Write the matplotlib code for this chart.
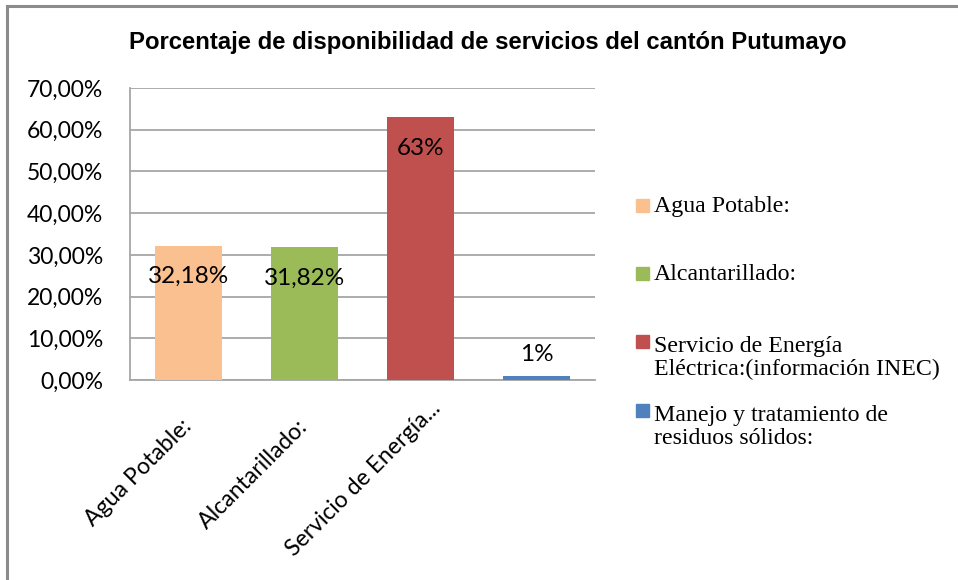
import matplotlib
matplotlib.use("Agg")
import matplotlib.pyplot as plt
from matplotlib.patches import Rectangle
from matplotlib.lines import Line2D
from matplotlib.ticker import FuncFormatter
import matplotlib.transforms as mtransforms

# Data
categories = [
    "Agua Potable:",
    "Alcantarillado:",
    "Servicio de Energía\nEléctrica:(información INEC)",
    "Manejo y tratamiento de\nresiduos sólidos:",
]
tick_labels = ["Agua Potable:", "Alcantarillado:", "Servicio de Energía...", ""]
values = [0.3218, 0.3182, 0.63, 0.01]
value_labels = ["32,18%", "31,82%", "63%", "1%"]
colors = ["#FAC090", "#9BBB59", "#C0504D", "#4F81BD"]
title = "Porcentaje de disponibilidad de servicios del cantón Putumayo"

W, H = 958, 580
PT = 0.72  # points per pixel at 100 dpi
fig = plt.figure(figsize=(W / 100, H / 100), dpi=100)

# Chart-area border (top and left edges)
fig.add_artist(Line2D([7 / W, 1.0], [1 - 6 / H, 1 - 6 / H], color="#8C8C8C", lw=2.2,
                      transform=fig.transFigure))
fig.add_artist(Line2D([7 / W, 7 / W], [0.0, 1 - 6 / H], color="#8C8C8C", lw=2.2,
                      transform=fig.transFigure))

ax = fig.add_axes([130 / W, 1 - 380 / H, 465 / W, 292 / H])
x = list(range(len(values)))
ax.bar(x, values, width=0.576, color=colors, zorder=3)
ax.set_xlim(-0.5, len(values) - 0.5)
ax.set_ylim(0, 0.70)
ax.set_yticks([i / 10 for i in range(8)])
ax.yaxis.set_major_formatter(FuncFormatter(lambda v, p: f"{v * 100:.2f}%".replace(".", ",")))
ax.grid(axis="y", color="#A6A6A6", lw=1.3, zorder=0)
for s in ["top", "right"]:
    ax.spines[s].set_visible(False)
for s in ["left", "bottom"]:
    ax.spines[s].set_color("#A6A6A6")
    ax.spines[s].set_linewidth(1.3)
ax.tick_params(axis="y", length=0, pad=27 * PT, labelsize=16.5, labelcolor="black")
ax.tick_params(axis="x", length=0, pad=43 * PT, labelsize=16.6)
for lab in ax.get_yticklabels():
    lab.set_fontfamily("Lato")

ax.set_xticks(x)
ax.set_xticklabels(tick_labels, rotation=45, ha="right", va="center",
                   rotation_mode="anchor", fontfamily="Lato")
# the truncated third label sits further along its own direction
xl = ax.get_xticklabels()[2]
xl.set_transform(xl.get_transform()
                 + mtransforms.ScaledTranslation(17 / 100, 18 / 100, fig.dpi_scale_trans))

# Value labels: inside the top of tall bars, just above very short ones
for xi, v, lab in zip(x, values, value_labels):
    off = -31 if v > 0.05 else 21
    ax.annotate(lab, (xi, v), xytext=(0, off * PT), textcoords="offset points",
                ha="center", va="center", fontsize=17.5, fontfamily="Lato", zorder=5)

# Title
fig.text(488 / W, 1 - 49 / H, title, ha="center", va="baseline", fontsize=17.2,
         fontweight="bold", fontfamily="Liberation Sans")

# Legend (first-line baselines in pixels, 27 px between lines)
leg_base = [212, 280, 348, 417]
line_pitch = 27
for lab, c, yy in zip(categories, colors, leg_base):
    fig.add_artist(Rectangle((636 / W, 1 - yy / H), 13 / W, 13 / H, color=c,
                             transform=fig.transFigure))
    last_base = yy + line_pitch * lab.count("\n")
    fig.text(654 / W, 1 - last_base / H, lab, ha="left", va="baseline", fontsize=17.2,
             fontfamily="Liberation Serif", linespacing=1.13)

fig.savefig("out.png", dpi=100)
